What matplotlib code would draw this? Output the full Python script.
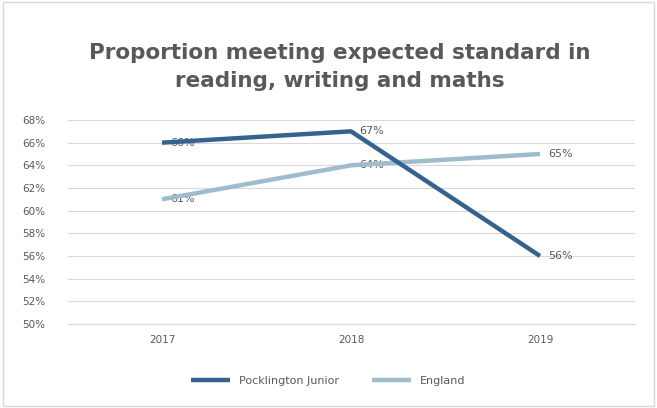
import matplotlib.pyplot as plt
from matplotlib.patches import Rectangle

years = ["2017", "2018", "2019"]
pocklington = [66, 67, 56]
england = [61, 64, 65]
series_names = ["Pocklington Junior", "England"]
y_ticks = list(range(50, 70, 2))

dark_blue = "#34638f"
light_blue = "#9fbccc"
text_grey = "#595959"

fig = plt.figure(figsize=(6.57, 4.08), dpi=100)
fig.patches.append(Rectangle((0.004, 0.006), 0.992, 0.988, transform=fig.transFigure,
                             fill=False, edgecolor="#d9d9d9", linewidth=1.0))
ax = fig.add_axes([67.5 / 657, 1 - 324 / 408, (634.5 - 67.5) / 657, (324 - 120) / 408])

x = range(len(years))
ax.plot(x, pocklington, color=dark_blue, linewidth=3.2, solid_capstyle="butt",
        label=series_names[0], zorder=3)
ax.plot(x, england, color=light_blue, linewidth=3.2, solid_capstyle="butt",
        label=series_names[1], zorder=2)

# data labels sit to the right of each point, under the lines
for xi, v in zip(x, pocklington):
    ax.annotate(f"{v}%", (xi, v), xytext=(6, 0), textcoords="offset points",
                va="center", ha="left", fontsize=8, color=text_grey, zorder=1)
for xi, v in zip(x, england):
    ax.annotate(f"{v}%", (xi, v), xytext=(6, 0), textcoords="offset points",
                va="center", ha="left", fontsize=8, color=text_grey, zorder=1)

ax.set_xlim(-0.5, len(years) - 0.5)
ax.set_ylim(50, 68)
ax.set_yticks(y_ticks)
ax.set_yticklabels([f"{t}%" for t in y_ticks], fontsize=7.5, color=text_grey)
ax.set_xticks(list(x))
ax.set_xticklabels(years, fontsize=7.5, color=text_grey)
ax.tick_params(length=0, pad=8)
ax.yaxis.set_tick_params(pad=16)
ax.grid(axis="y", color="#d9d9d9", linewidth=0.8)
ax.set_axisbelow(True)
for s in ax.spines.values():
    s.set_visible(False)
ax.spines["bottom"].set_visible(True)
ax.spines["bottom"].set_color("#d9d9d9")

fig.text(340 / 657, 1 - 67 / 408,
         "Proportion meeting expected standard in\nreading, writing and maths",
         ha="center", va="center", fontsize=15.5, fontweight="bold", color=text_grey,
         linespacing=1.45)

ax.legend(loc="center", bbox_to_anchor=(0.5, 1 - 381 / 408), bbox_transform=fig.transFigure,
          ncol=2, frameon=False, fontsize=8, labelcolor=text_grey, handlelength=3.5,
          columnspacing=3)

fig.savefig("out.png", dpi=100)
